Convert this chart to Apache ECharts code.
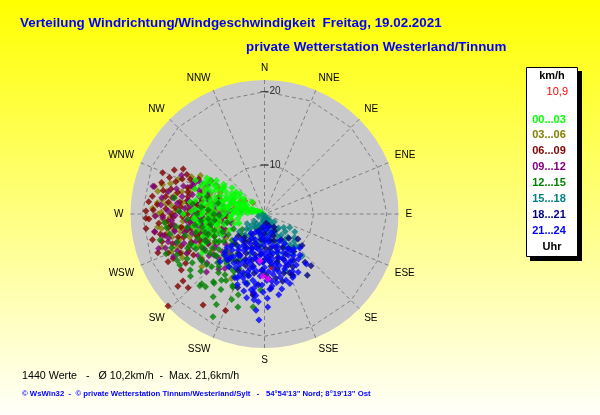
<!DOCTYPE html>
<html><head><meta charset="utf-8">
<script src="https://cdn.jsdelivr.net/npm/echarts@6/dist/echarts.min.js"></script>
<style>html,body{margin:0;padding:0;background:#fff}#c{width:600px;height:415px}</style>
</head><body><div id="c"></div>
<script>
// ---- data ----
const directionLabels = ['N','NNE','NE','ENE','E','ESE','SE','SSE','S','SSW','SW','WSW','W','WNW','NW','NNW'];
const ringValues = [10, 20];
const hourRanges = ['00...03','03...06','06...09','09...12','12...15','15...18','18...21','21...24'];
const hourColors = ['#00ff00','#808000','#800000','#800080','#008000','#008080','#000080','#0000ff'];
const currentSpeed = '10,9';
const statsText = '1440 Werte   -   \u00d8 10,2km/h  -  Max. 21,6km/h';
const copyrightText = '\u00a9 WsWin32  -  \u00a9 private Wetterstation Tinnum/Westerland/Sylt   -   54\u00b054\'13" Nord; 8\u00b019\'13" Ost';
const titleText = 'Verteilung Windrichtung/Windgeschwindigkeit  Freitag, 19.02.2021';
const subtitleText = 'private Wetterstation Westerland/Tinnum';
const speedMin = 3.3, speedMax = 21.6;

// [direction deg, speed km/h]
const h00_03 = [[285,3.8],[282,4.2],[288,4.6],[280,5.0],[290,5.3],[284,5.6],[278,5.9],[292,6.2],[286,6.5],[281,6.9],[294,7.1],[289,7.4],[276,7.6],[298,7.9],[284,8.2],[291,8.5],[279,8.7],[302,8.6],[295,9.0],[287,9.3],[304,9.9],[299,10.1],[289,10.4],[283,10.0],[296,10.7],[301,10.9],[293,11.2],[275,12.1],[267,11.0],[271,8.7],[273,5.6],[314,5.7],[307,6.8],[310,7.6],[303,8.1],[300,11.6],[302,12.6],[302,12.1],[298,12.3],[305,11.3],[294,12.8],[288,12.0],[280,11.5],[272,10.2],[266,13.0],[262,12.4],[258,11.6],[238,13.4],[244,12.5],[252,10.8],[260,9.6],[268,9.0],[276,10.6],[284,11.8],[290,13.4],[296,13.8],[279,13.6],[270,14.4],[286,7.0],[292,5.0],[297,6.0],[288,3.5],[283,6.3],[300,9.4],[306,10.2],[309,9.0],
  [283,4.8],[287,5.8],[291,7.8],[285,9.6],[293,9.8],[297,8.4],[280,7.2],[277,8.2],[289,6.0],[295,11.8],[299,11.0],[286,12.6],[281,12.9],[274,12.8],[264,11.5],[256,12.8],[248,11.4],[262,10.6],[270,11.8],[278,9.6],[308,8.2],[304,7.4],[300,6.6],[294,4.4],[286,4.2],[279,4.0],[296,3.9],
  [276,11.0],[282,10.8],[290,9.0],[295,8.0],[288,8.0],[281,8.4],[274,7.4],[268,7.8],[283,3.9],[293,6.6],[302,10.0],[297,12.6],[292,12.0],[286,10.2],[279,10.5],[272,13.3],[265,10.4],[257,10.0],[250,12.2],[245,13.8],
  [258,10.2],[269,12.1],[245,8.5],[268,6.6],[262,8.0],[255,9.0],[250,9.8],[265,9.6],[272,7.0],[260,7.0],[252,7.6],[248,10.5],[256,11.2],[264,12.6],[270,10.8],[276,9.2],[282,9.0],[275,6.5],[266,8.0],[258,8.6],[250,7.0],[244,9.8],[240,10.8],[262,11.4],[273,11.6],[279,12.0],[285,11.0],[268,12.8],[254,11.8],[260,13.2]];
const h03_06 = [[271,17.4],[267,17.2],[278,17.4],[264,15.9],[260,14.6],[243,15.2],[248,17.0],[207,13.2],[314,5.5],[300,10.5],[295,12.2],[290,13.5],[285,15.0],[280,16.2],[275,14.0],[270,12.5],[266,11.0],[262,13.0],[257,12.0],[253,14.0],[250,10.5],[256,16.3],[272,15.5],[283,11.0],[288,9.5],[293,8.0],[298,7.0],[304,6.5],[279,12.8],[274,10.0],[268,8.5],[262,9.5],[258,7.8],[245,11.8],[240,13.0],[235,12.0],[230,14.5],[286,17.8],[276,18.0],[269,18.3],[263,18.0],[292,16.0],[297,14.5],[301,13.5],[281,7.5],[287,6.0],[277,9.0],[289,14.2],[265,16.8],[252,18.0],[245,15.8],[238,9.5],[282,18.2],[273,18.6],
  [268,16.2],[262,17.5],[258,15.0],[254,13.2],[270,14.2],[276,16.8],[282,15.8],[288,16.8],[294,14.0],[284,12.2],[278,11.2],[272,11.8],[266,12.8],[260,11.0],[251,12.8],[247,14.5],[242,16.0],[256,10.0],[264,9.2],[280,13.8],[290,11.2],[296,10.0],[248,9.0],
  [265,14.5],[261,15.0],[257,13.8],[253,15.5],[249,16.2],[273,13.0],[278,14.6],[286,13.8],[291,12.2],[268,10.2],[262,12.0],[255,11.0],[250,12.0],[275,16.0],[283,17.0],[270,17.8],[259,16.8],[244,13.2],[240,11.2],[235,13.8]];
const h06_09 = [[271.5,19.5],[267.5,19.1],[292,18.3],[289,14.4],[302,11.9],[260.7,18.5],[243.6,18.0],[226.4,21.5],[230.2,18.7],[226,17.8],[188,14.3],[214,18.3],[230.6,17.7],[202,17.5],[275,18.0],[280,17.0],[285,16.5],[270,16.0],[265,17.8],[262,16.5],[258,17.2],[255,15.5],[252,16.5],[248,17.5],[268,14.5],[273,13.5],[278,15.0],[283,14.0],[288,12.5],[293,15.5],[296,17.0],[264,12.0],[259,13.5],[254,12.5],[249,14.0],[245,16.0],[270,11.0],[276,11.8],[281,10.5],[286,11.2],[262,10.0],[257,11.0],[251,9.5],[266,8.5],[274,9.0],[279,12.8],[267,13.2],[272,18.5],[279,18.8],[287,18.0],[298,13.5],[299,16.0],[263,19.6],[257,19.0],[240,14.5],[236,17.0],[242,12.0],[246,10.8],[290,10.0],[261,14.8],[268,15.8],[277,16.5],
  [273,16.8],[266,16.5],[260,15.8],[255,17.8],[250,18.8],[269,17.2],[283,17.5],[290,16.2],[295,14.5],[284,15.5],[275,14.8],[270,13.8],[264,13.5],[258,14.2],[252,13.0],[247,12.8],[261,11.5],[271,12.2],[278,13.8],[282,12.0],[253,10.8],[268,10.5],[244,14.8],[238,16.0],
  [274,15.5],[280,14.0],[286,14.2],[291,13.8],[263,16.2],[259,17.8],[254,14.8],[249,15.5],[244,17.2],[266,11.8],[272,10.5],[277,12.5],[260,9.8],[256,12.8],[250,11.5],[284,18.8],[276,19.2],[268,19.5],[291,17.2],[297,15.2]];
const h09_12 = [[294,13.7],[277,15.3],[251,17.6],[294.5,13.9],[229.6,13.6],[233.7,13.9],[219.6,13.1],[211,9.8],[285,12.5],[280,13.8],[275,12.0],[270,13.0],[265,14.0],[260,12.5],[255,13.5],[250,15.0],[245,14.0],[240,12.8],[236,11.5],[226,12.0],[222,10.5],[272,16.5],[266,16.0],[259,15.8],[254,17.0],[283,16.8],[289,15.0],[291,11.5],[286,10.0],[281,9.0],[276,8.0],[270,9.5],[264,10.5],[258,9.0],[252,11.0],[247,10.0],[242,9.5],[274,10.8],[268,11.8],[262,12.0],[256,11.5],[297,12.0],[301,11.0],[279,17.5],[269,18.2],[261,18.5],[248,12.2],[232,10.0],[216,12.5],[225,14.5],[284,19.0],[288,8.0],[278,6.5],[255,8.0],
  [282,14.8],[276,13.5],[271,14.8],[266,12.5],[261,13.8],[257,14.5],[252,16.0],[247,16.2],[243,15.2],[238,14.0],[231,12.2],[228,11.0],[285,13.5],[290,12.8],[295,15.8],[273,12.8],[263,15.8],[268,17.2],[256,16.8],[278,10.2],[284,11.2],[260,10.8],[250,9.2],
  [279,12.2],[274,14.2],[269,15.5],[264,13.2],[259,14.0],[253,12.0],[248,13.5],[243,12.0],[238,11.0],[233,12.8],[286,15.8],[291,14.0],[296,13.0],[280,16.0],[275,17.5],[258,17.5],[252,18.5],[245,17.0],[266,9.0],[272,8.5]];
const h12_15 = [[206.6,19.0],[211.8,16.6],[198,14.9],[203.3,14.2],[187,16.1],[208,17.3],[213,14.1],[217,14.9],[183,13.7],[230,12.1],[213,13.2],[246,12.2],[261,12.9],[208,10.4],[220.6,11.6],[225,13.5],[235,14.0],[240,15.5],[245,16.5],[250,13.0],[255,14.5],[258,12.0],[252,10.5],[247,9.5],[241,11.0],[236,10.0],[231,9.0],[226,10.5],[221,9.0],[216,11.0],[212,12.0],[238,12.8],[243,13.8],[262,15.5],[266,13.8],[270,12.5],[274,11.0],[278,13.2],[283,9.8],[287,11.5],[268,9.5],[263,10.2],[257,8.5],[250,16.8],[233,16.0],[228,15.0],[222,16.5],[218,13.5],[201,15.8],[194,13.0],[199,12.0],[205,11.5],[227,7.5],[235,7.0],[244,8.0],[265,17.0],[272,15.0],[280,15.8],[256,18.0],[219,16.1],[222,16.1],[242,16.8],
  [248,14.2],[244,12.0],[239,10.5],[234,12.5],[229,13.8],[224,12.5],[219,10.5],[214,9.8],[210,13.8],[206,12.8],[253,11.8],[259,10.8],[264,12.0],[232,11.2],[227,9.5],[240,9.0],[236,15.2],[246,10.8],[252,15.8],[258,16.5],[216,15.0],[210,15.2],[204,14.0],[196,16.5],
  [255,13.0],[250,11.5],[246,14.8],[242,13.0],[237,11.8],[233,14.0],[229,12.0],[225,11.2],[221,12.8],[217,11.8],[212,10.8],[208,12.2],[260,14.0],[265,11.0],[270,10.2],[276,12.0],[262,16.8],[248,17.8],[239,16.8],[230,16.5]];
const h15_18 = [[160,3.6],[175,3.8],[150,4.0],[190,4.2],[140,4.4],[165,4.6],[200,4.8],[155,5.0],[180,5.2],[145,5.5],[170,5.8],[210,5.6],[135,6.0],[160,6.3],[190,6.5],[150,6.8],[141.7,7.8],[144.7,9.3],[120.5,8.1],[139,9.3],[135.6,9.4],[222.9,7.2],[225,6.2],[218,7.8],[230,6.5],[215,5.5],[235,7.5],[130,7.0],[125,6.5],[155,7.5],[165,7.2],[175,6.8],[185,7.8],[195,6.0],[205,7.0],[150,8.5],[160,9.0],[145,10.0],[170,8.5],[138,11.0],[132,8.8],[180,9.5],[200,9.0],[212,8.5],[140,6.0],[128,5.0],[118,7.2],[195,4.0],[185,5.5],[240,6.0],[250,4.2],[235,5.0],[260,3.6],[166,10.2],[160,11.5],
  [155,4.2],[168,4.0],[182,4.4],[200,5.5],[148,5.0],[162,5.5],[175,6.0],[188,6.2],[205,5.2],[142,7.0],[152,6.2],[170,7.0],[190,7.2],[215,6.8],[220,5.0],[228,5.6],[145,8.2],[135,7.8],[128,8.5],[140,8.8],[133,9.8]];
const h18_21 = [[140,11.9],[126.7,9.0],[151.7,11.5],[155,12.6],[144,5.5],[147,7.5],[152,8.5],[158,6.5],[163,9.5],[168,7.0],[173,10.5],[178,8.0],[183,11.0],[188,6.8],[193,9.0],[198,7.5],[203,10.0],[208,8.5],[213,9.8],[218,11.2],[160,5.0],[170,4.6],[150,6.0],[135,8.0],[130,10.0],[142,9.8],[148,10.8],[157,12.0],[165,12.8],[175,13.5],[185,13.0],[195,12.0],[205,11.8],[180,6.0],[190,5.2],[200,5.8],[210,6.5],[220,7.5],[225,9.0],[162,8.0],[172,9.0],[182,9.8],[192,10.6],[177,12.0],[167,11.0],[157,10.0],[138,12.8],[145,13.5],[188,14.5],[200,14.0],[230,8.0],[155.7,12.4],
  [160,7.2],[170,8.0],[180,7.0],[190,7.8],[200,8.2],[210,7.5],[165,10.0],[175,9.5],[185,8.8],[195,9.8],[205,9.2],[215,8.0],[152,9.5],[145,9.0],[155,11.0],[162,11.8],[170,12.2],[180,11.5],[190,11.5],[200,10.8],[210,10.8]];
const h21_24 = [[165,5.2],[175,5.5],[185,5.0],[195,5.8],[205,6.0],[215,6.5],[180,6.8],[170,6.5],[190,6.2],[200,7.0],[160,6.0],[150,7.5],[158,8.0],[166,7.8],[174,8.5],[182,7.5],[190,8.2],[198,8.8],[206,7.8],[214,8.4],[222,8.0],[229,8.6],[162,8.8],[186,9.0],[210,9.0],[146,8.2],[140,9.5],[145,10.2],[150,9.8],[156,10.5],[162,9.6],[168,10.3],[174,9.8],[180,10.6],[186,10.0],[192,10.8],[198,9.7],[204,10.4],[210,9.9],[216,10.5],[222,9.9],[154,9.2],[170,11.0],[195,11.0],[139,10.7],[178,9.4],[148,11.5],[154,12.0],[160,11.3],[166,12.2],[172,11.6],[178,12.4],[184,11.8],[190,12.5],[196,11.5],[202,12.3],[208,11.6],[214,12.0],[220,11.2],[162,12.8],[187,12.9],[205,12.9],[150,12.5],[160,13.4],[167,13.8],[174,13.2],[181,14.0],[188,13.5],[195,14.2],[201,13.6],[178,14.8],[170,14.5],[192,15.0],[184,15.3],[183,17.8],[185,16.5],[178,16.0],[140,12.2],[134,10.0],[187,15.1],[188,14.1],[224,11.1],[219,11.4],[223,12.2],[228,10.2],[203,12.8],[198.6,12.5],
  [168,8.8],[176,9.2],[184,8.5],[192,9.4],[200,8.4],[208,8.6],[216,9.4],[164,10.6],[172,10.1],[182,9.9],[190,9.6],[196,10.3],[206,11.0],[212,11.2],[158,11.0],[176,11.2],[194,12.0],[200,11.8],[170,12.8],[182,13.0],[190,13.8],[176,13.6],[186,14.5],[196,13.0],[156,12.8],[152,10.8],[143,11.0],[147,9.0],[218,9.0],[226,9.6],
  [160,8.5],[172,7.2],[184,6.6],[196,7.5],[208,7.0],[180,8.8],[188,11.2],[200,10.2],[212,10.0],[166,11.5],[174,12.5],[182,11.0],[194,13.2],[158,9.8],[150,10.6],[144,9.4],[218,10.8],[226,10.8],[170,9.5],[194,8.0]];
const latestPoints = [[181.4,11.8],[176.9,12.2],[185.5,9.7]];
const currentPoint = [[173,10.8]];

// ---- chart ----
const hourSeries = [h00_03,h03_06,h06_09,h09_12,h12_15,h15_18,h18_21,h21_24];
const seriesLayer = [4, 3, 3, 3, 5, 5, 5, 5];
const chart = echarts.init(document.getElementById('c'));
const FONT = 'Liberation Sans, Arial, sans-serif';
const spokeAngles = directionLabels.map((_, i) => i * 22.5);

const series = [];
ringValues.forEach(v => {
  series.push({
    type: 'line', coordinateSystem: 'polar', silent: true, z: 1,
    symbol: 'none', animation: false,
    lineStyle: { color: '#808080', width: 1, type: [4, 3] },
    data: spokeAngles.concat([360]).map(a => [v, a])
  });
});
series.push({
  type: 'scatter', coordinateSystem: 'polar', silent: true, clip: false, z: 7,
  symbol: 'rect', symbolSize: [8, 1], itemStyle: { color: '#000' },
  label: { show: true, position: 'right', distance: 1, color: '#000', fontSize: 10, fontFamily: FONT,
    formatter: p => String(p.value[0]) },
  data: ringValues.map(v => [v, 0])
});
hourSeries.forEach((d, i) => {
  series.push({
    name: hourRanges[i], type: 'scatter', coordinateSystem: 'polar', z: seriesLayer[i],
    symbol: 'diamond', symbolSize: 7, itemStyle: { color: hourColors[i] },
    data: d.map(p => [p[1], p[0]])
  });
});
series.push({ type: 'scatter', coordinateSystem: 'polar', z: 6, symbol: 'diamond', symbolSize: 7,
  itemStyle: { color: '#ff00ff' }, data: latestPoints.map(p => [p[1], p[0]]) });
series.push({ type: 'scatter', coordinateSystem: 'polar', z: 6, symbol: 'diamond', symbolSize: 4,
  itemStyle: { color: '#ff0000' }, data: currentPoint.map(p => [p[1], p[0]]) });

const graphics = [
  { type: 'rect', shape: { x: 530, y: 71, width: 52, height: 190 }, style: { fill: '#000' }, z: 10 },
  { type: 'rect', shape: { x: 526.5, y: 67.5, width: 51, height: 189 }, style: { fill: '#fff', stroke: '#000', lineWidth: 1 }, z: 11 },
  { type: 'text', x: 552, y: 76, z: 20, style: { text: 'km/h', fill: '#000', font: 'bold 11px ' + FONT, textAlign: 'center', textVerticalAlign: 'middle' } },
  { type: 'text', x: 568, y: 92, z: 20, style: { text: currentSpeed, fill: '#ff0000', font: '11px ' + FONT, textAlign: 'right', textVerticalAlign: 'middle' } }
];
hourRanges.forEach((t, i) => graphics.push({
  type: 'text', x: 549, y: 119.5 + i * 15.9, z: 20,
  style: { text: t, fill: hourColors[i], font: 'bold 11px ' + FONT, textAlign: 'center', textVerticalAlign: 'middle' }
}));
graphics.push({ type: 'text', x: 552, y: 247, z: 20, style: { text: 'Uhr', fill: '#000', font: 'bold 11px ' + FONT, textAlign: 'center', textVerticalAlign: 'middle' } });

chart.setOption({
  animation: false,
  backgroundColor: { type: 'linear', x: 0, y: 0, x2: 0, y2: 1,
    colorStops: [{ offset: 0, color: '#ffff00' }, { offset: 1, color: '#fffffa' }] },
  title: [
    { text: titleText, left: 20, top: 17, padding: 0, textStyle: { color: '#0000ff', fontSize: 13.4, fontWeight: 'bold', fontFamily: FONT } },
    { text: subtitleText, left: 246, top: 41, padding: 0, textStyle: { color: '#0000ff', fontSize: 13.4, fontWeight: 'bold', fontFamily: FONT } },
    { text: statsText, left: 22, top: 371, padding: 0, textStyle: { color: '#000', fontSize: 10.7, fontWeight: 'normal', fontFamily: FONT } },
    { text: copyrightText, left: 22, top: 390, padding: 0, textStyle: { color: '#0000ff', fontSize: 7.75, fontWeight: 'bold', fontFamily: FONT } }
  ],
  polar: { center: [264.5, 214], radius: 134 },
  angleAxis: {
    type: 'value', min: 0, max: 360, interval: 22.5, startAngle: 90, clockwise: true, z: 2,
    axisLine: { show: false }, axisTick: { show: false },
    axisLabel: { show: true, margin: 7, color: '#000', fontSize: 10, fontFamily: FONT,
      formatter: v => directionLabels[Math.round(v / 22.5) % 16] },
    splitLine: { show: true, lineStyle: { color: '#808080', width: 1, type: [4, 3] } },
    splitArea: { show: false }
  },
  radiusAxis: {
    type: 'value', min: speedMin, max: speedMax, z: 0,
    axisLine: { show: false }, axisTick: { show: false }, axisLabel: { show: false }, splitLine: { show: false },
    splitArea: { show: true, areaStyle: { color: ['#cacaca'] } }
  },
  graphic: graphics,
  series: series
});
</script></body></html>
